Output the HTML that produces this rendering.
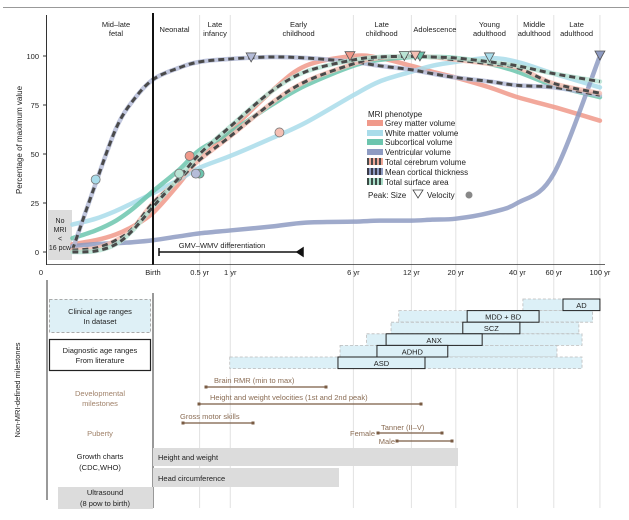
<!DOCTYPE html>
<html><head><meta charset="utf-8"><style>
body{margin:0;background:#fff;width:629px;height:515px;overflow:hidden}
svg{font-family:"Liberation Sans",sans-serif}
</style></head><body>
<svg id="c" width="629" height="515" viewBox="0 0 629 515">
<line x1="3" y1="7.5" x2="629" y2="7.5" stroke="#999" stroke-width="1"/>
<g id="grid"></g>
<g id="bottom"></g>
<g id="curves"></g>
<g id="axes"></g>
<g id="legend">
<text x="368" y="117" font-size="8" fill="#222">MRI phenotype</text>
<rect x="367" y="120" width="16" height="6" fill="#f0998a"/>
<text x="385" y="126" font-size="8" fill="#222">Grey matter volume</text>
<rect x="367" y="130" width="16" height="6" fill="#a9dcea"/>
<text x="385" y="136" font-size="8" fill="#222">White matter volume</text>
<rect x="367" y="139" width="16" height="6" fill="#6cc5ae"/>
<text x="385" y="145" font-size="8" fill="#222">Subcortical volume</text>
<rect x="367" y="149" width="16" height="6" fill="#8e9bc2"/>
<text x="385" y="155" font-size="8" fill="#222">Ventricular volume</text>
<rect x="367" y="158" width="16" height="7" fill="#f0a898"/>
<line x1="367" y1="161.5" x2="383" y2="161.5" stroke="#4a4a4a" stroke-width="7" stroke-dasharray="2 2"/>
<text x="385" y="165" font-size="8" fill="#222">Total cerebrum volume</text>
<rect x="367" y="168" width="16" height="7" fill="#8e9bc2"/>
<line x1="367" y1="171.5" x2="383" y2="171.5" stroke="#3a3a48" stroke-width="7" stroke-dasharray="2 2"/>
<text x="385" y="175" font-size="8" fill="#222">Mean cortical thickness</text>
<rect x="367" y="178" width="16" height="7" fill="#a8dcc8"/>
<line x1="367" y1="181.5" x2="383" y2="181.5" stroke="#3a4a44" stroke-width="7" stroke-dasharray="2 2"/>
<text x="385" y="185" font-size="8" fill="#222">Total surface area</text>
<text x="368" y="198" font-size="8" fill="#222">Peak:  Size</text>
<path d="M413,190 L423,190 L418,198 Z" fill="none" stroke="#444" stroke-width="0.8"/>
<text x="427" y="198" font-size="8" fill="#222">Velocity</text>
<circle cx="469" cy="195" r="3.5" fill="#888"/>
</g>
</svg>
<script>
// x mapping: post-conception years, log scale
const ages = [0.31,0.4,0.5,0.6,0.75,1.0,1.25,1.75,2.75,4,6.75,9,12.75,16,20.75,30,40.75,60.75,100.75];
const gmv  = [4,6,9,13,20,35,48,62,82,95,100,99,95,92,89,84,79,74,67];
const wmv  = [14,17,21,25,30,37,43,49,58,66,80,87,92,95,97,99,97,91,84];
const sub  = [7,11,16,22,31,42,52,61,75,85,95,98,99.5,99.5,99,96,92,85,79];
const vent = [3,4,4.5,5,6,8,9.5,11,13,15,15.5,16,16,16.5,17,20,25,40,100];
const ct   = [1,35,63,77,88,94,97,98.5,99.5,99,97,95,93,91,89,87,85,84,80];
const tcv  = [1,2,6,12,25,37,47,59,76,87,96,99,100,99.5,98,96,94,86,81];
const tsa  = [0,0.5,4,11,23,38,50,64,82,92,98,99.5,99.8,99.5,99,97,95,91,87];
const peakAges = [6.5,30,14,100.75,2.2,13.3,11.8];
const velAges  = [1.12,0.4,1.25,1.25,1.2,3.0,1.0];
const velVals  = [49,37,40,54,40,61,40];
const tickLabels = ["Birth","0.5 yr","1 yr","6 yr","12 yr","20 yr","40 yr","60 yr","100 yr"];
const tickAges = [0.75,1.25,1.75,6.75,12.75,20.75,40.75,60.75,100.75];
const yTicks = [0,25,50,75,100];
const stages = [["Mid–late","fetal",0.5],["","Neonatal",0.95],["Late","infancy",1.48],["Early","childhood",3.7],["Late","childhood",9.2],["","Adolescence",16.5],["Young","adulthood",30],["Middle","adulthood",49],["Late","adulthood",78]];
const clinStart = [43.3,11.1,10.2,7.8,5.83,1.74];
const clinEnd   = [100.75,93,80,82.8,62.9,82.8];
const diagStart = [67.2,23.5,22.4,9.66,8.74,5.7];
const diagEnd   = [100.75,51.7,41.9,27.7,19,14.8];
const disorders = ["AD","MDD + BD","SCZ","ANX","ADHD","ASD"];

const NS="http://www.w3.org/2000/svg";
const X=a=>153+210*(Math.log10(a)-Math.log10(0.75));
const Y=v=>252-v*1.96;
function mk(p,t,at){const e=document.createElementNS(NS,t);for(const k in at)e.setAttribute(k,at[k]);p.appendChild(e);return e;}
function txt(p,x,y,s,at){const e=mk(p,'text',Object.assign({x:x,y:y,'font-size':8,fill:'#222'},at||{}));e.textContent=s;return e;}
const G=document.getElementById('grid'),C=document.getElementById('curves'),A=document.getElementById('axes'),B=document.getElementById('bottom');

tickAges.slice(1).forEach((a,i)=>{
  const l=mk(G,'line',{x1:X(a),x2:X(a),y1:15,y2:508,stroke:'#e2e2e2','stroke-width':1});
  
  
});
stages.forEach(s=>{
  const x=X(s[2]);
  if(s[0]){const t=txt(G,x,27,s[0],{'text-anchor':'middle','font-size':7.5});}
  const t2=txt(G,x,s[0]?36:32,s[1],{'text-anchor':'middle','font-size':7.5});
  
  
});
const nb=mk(G,'rect',{x:48,y:210,width:24,height:50,fill:'#dcdcdc'});


["No","MRI","<","16 pcw"].forEach((s,i)=>{const t=txt(G,60,223+i*9,s,{'text-anchor':'middle','font-size':7});});

function pathD(vals){
  const P=ages.map((a,i)=>[X(a),Y(vals[i])]);
  let d='M'+P[0][0]+','+P[0][1];
  for(let i=0;i<P.length-1;i++){
    const p0=P[Math.max(0,i-1)],p1=P[i],p2=P[i+1],p3=P[Math.min(P.length-1,i+2)];
    d+=' C'+(p1[0]+(p2[0]-p0[0])/6)+','+(p1[1]+(p2[1]-p0[1])/6)+' '+(p2[0]-(p3[0]-p1[0])/6)+','+(p2[1]-(p3[1]-p1[1])/6)+' '+p2[0]+','+p2[1];
  }
  return d;
}
function valAt(vals,a){
  for(let i=0;i<ages.length-1;i++){if(a<=ages[i+1]){const f=(Math.log(a)-Math.log(ages[i]))/(Math.log(ages[i+1])-Math.log(ages[i]));return vals[i]+f*(vals[i+1]-vals[i]);}}
  return vals[vals.length-1];
}
const series=[
 {n:'grey-matter-volume',v:gmv,c:'#f0998a',dash:false},
 {n:'white-matter-volume',v:wmv,c:'#a9dcea',dash:false},
 {n:'subcortical-volume',v:sub,c:'#6cc5ae',dash:false},
 {n:'ventricular-volume',v:vent,c:'#8e9bc2',dash:false},
 {n:'mean-cortical-thickness',v:ct,c:'#b5bcd8',dash:true},
 {n:'total-cerebrum-volume',v:tcv,c:'#f5c0b4',dash:true},
 {n:'total-surface-area',v:tsa,c:'#b9e3d4',dash:true}
];
series.forEach((s,i)=>{
  const d=pathD(s.v);
  const p=mk(C,'path',{d:d,fill:'none',stroke:s.c,'stroke-width':4.5,'stroke-opacity':0.85,'stroke-linecap':'round'});
  
  
  if(s.dash){
    const q=mk(C,'path',{d:d,fill:'none',stroke:'#4a4a4a','stroke-width':3,'stroke-dasharray':'6 4'});
    
    
  }
});
series.forEach((s,i)=>{
  const x=X(peakAges[i]),y=Y(valAt(s.v,peakAges[i]));
  const t=mk(C,'path',{d:`M${x-5},${y-5} L${x+5},${y-5} L${x},${y+4} Z`,fill:s.c,stroke:'#555','stroke-width':0.8});
  
  
  if(i!==3){
    const c=mk(C,'circle',{cx:X(velAges[i]),cy:Y(velVals[i]),r:4.5,fill:s.c,stroke:'#777','stroke-width':0.8});
    
    
  }
});
const bl=mk(A,'line',{x1:153,x2:153,y1:13,y2:265,stroke:'#111','stroke-width':2});


const ya=mk(A,'line',{x1:46.5,x2:46.5,y1:15,y2:265,stroke:'#333','stroke-width':1});


const xa=mk(A,'line',{x1:46,x2:605,y1:264.5,y2:264.5,stroke:'#333','stroke-width':0.8});


yTicks.forEach(v=>{
  const t=txt(A,39,Y(v)+3,String(v),{'text-anchor':'end','font-size':7.5});
  
  
  const k=mk(A,'line',{x1:43,x2:46,y1:Y(v),y2:Y(v),stroke:'#333'});
  
  
});
const yt=txt(A,0,0,'Percentage of maximum value',{'text-anchor':'middle','font-size':8,transform:'translate(22,140) rotate(-90)'});


const z=txt(A,41,275,'0',{'text-anchor':'middle','font-size':7.5});


tickAges.forEach((a,i)=>{
  const t=txt(A,X(a),275,tickLabels[i],{'text-anchor':'middle','font-size':7.5});
  
  
});
const ga=mk(A,'line',{x1:159,x2:303,y1:252,y2:252,stroke:'#111','stroke-width':1.5});


mk(A,'path',{d:'M159,248 L159,256 M303,248 L303,256 L297,252 Z',stroke:'#111',fill:'#111','stroke-width':1.5});
const gt=txt(A,222,248,'GMV–WMV differentiation',{'text-anchor':'middle','font-size':7.5});



const lv=mk(B,'line',{x1:47,x2:47,y1:280,y2:500,stroke:'#333'});


const sv=mk(B,'line',{x1:153,x2:153,y1:293,y2:508,stroke:'#333'});


const bt=txt(B,0,0,'Non-MRI-defined milestones',{'text-anchor':'middle','font-size':7.5,transform:'translate(20,390) rotate(-90)'});


const cb=mk(B,'rect',{x:49.5,y:299.5,width:101,height:33,fill:'#def0f6',stroke:'#aaa','stroke-dasharray':'3 2'});


txt(B,100,314,'Clinical age ranges',{'text-anchor':'middle','font-size':7.5});
txt(B,100,324,'In dataset',{'text-anchor':'middle','font-size':7.5});
const db=mk(B,'rect',{x:49.5,y:339.5,width:101,height:31,fill:'#fff',stroke:'#222','stroke-width':1.2});


txt(B,100,353,'Diagnostic age ranges',{'text-anchor':'middle','font-size':7.5});
txt(B,100,363,'From literature',{'text-anchor':'middle','font-size':7.5});
txt(B,100,396,'Developmental',{'text-anchor':'middle','font-size':7.5,fill:'#a0826a'});
txt(B,100,406,'milestones',{'text-anchor':'middle','font-size':7.5,fill:'#a0826a'});
txt(B,100,436,'Puberty',{'text-anchor':'middle','font-size':7.5,fill:'#a0826a'});
txt(B,100,459,'Growth charts',{'text-anchor':'middle','font-size':7.5});
txt(B,100,470,'(CDC,WHO)',{'text-anchor':'middle','font-size':7.5});
const ub=mk(B,'rect',{x:58,y:487,width:95,height:22,fill:'#dcdcdc'});


txt(B,105,495,'Ultrasound',{'text-anchor':'middle','font-size':7.5});
txt(B,105,506,'(8 pow to birth)',{'text-anchor':'middle','font-size':7.5});
const hw=mk(B,'rect',{x:153,y:448,width:305,height:18,fill:'#dcdcdc'});


txt(B,158,460,'Height and weight',{'font-size':7.5});
const hc=mk(B,'rect',{x:153,y:468,width:186,height:19,fill:'#dcdcdc'});


txt(B,158,481,'Head circumference',{'font-size':7.5});
disorders.forEach((d,i)=>{
  const y=299+i*11.6;
  const r=mk(B,'rect',{x:X(clinStart[i]),y:y,width:X(clinEnd[i])-X(clinStart[i]),height:11.6,fill:'#dcf0f7',stroke:'#bbb','stroke-width':0.8,'stroke-dasharray':'3 2'});
  
  
});
disorders.forEach((d,i)=>{
  const y=299+i*11.6;
  const r=mk(B,'rect',{x:X(diagStart[i]),y:y,width:X(diagEnd[i])-X(diagStart[i]),height:11.6,fill:'#dcf0f7',stroke:'#222','stroke-width':1});
  
  
  const t=txt(B,(X(diagStart[i])+X(diagEnd[i]))/2,y+9,d,{'text-anchor':'middle','font-size':7.5});
  
  
});
function rng(name,x1,x2,y,label,lx,ly){
  const g=mk(B,'g',{});
  
  
  mk(g,'line',{x1:x1,x2:x2,y1:y,y2:y,stroke:'#7a5c44','stroke-width':1.3});
  mk(g,'rect',{x:x1-1.5,y:y-1.5,width:3,height:3,fill:'#7a5c44'});
  mk(g,'rect',{x:x2-1.5,y:y-1.5,width:3,height:3,fill:'#7a5c44'});
  if(label)txt(g,lx,ly,label,{'font-size':7.5,fill:'#8a6c54'});
}
rng('brain-rmr-range',206,326,387,'Brain RMR (min to max)',214,383);
rng('height-weight-velocity-range',199,421,404,'Height and weight velocities (1st and 2nd peak)',210,400);
rng('gross-motor-range',183,253,423,'Gross motor skills',180,419);
rng('tanner-female-range',378,442,433,'Tanner (II–V)',381,430);
rng('tanner-male-range',397,452,441,'',0,0);
txt(B,375,436,'Female',{'text-anchor':'end','font-size':7.5,fill:'#8a6c54'});
txt(B,395,444,'Male',{'text-anchor':'end','font-size':7.5,fill:'#8a6c54'});
</script>
</body></html>
